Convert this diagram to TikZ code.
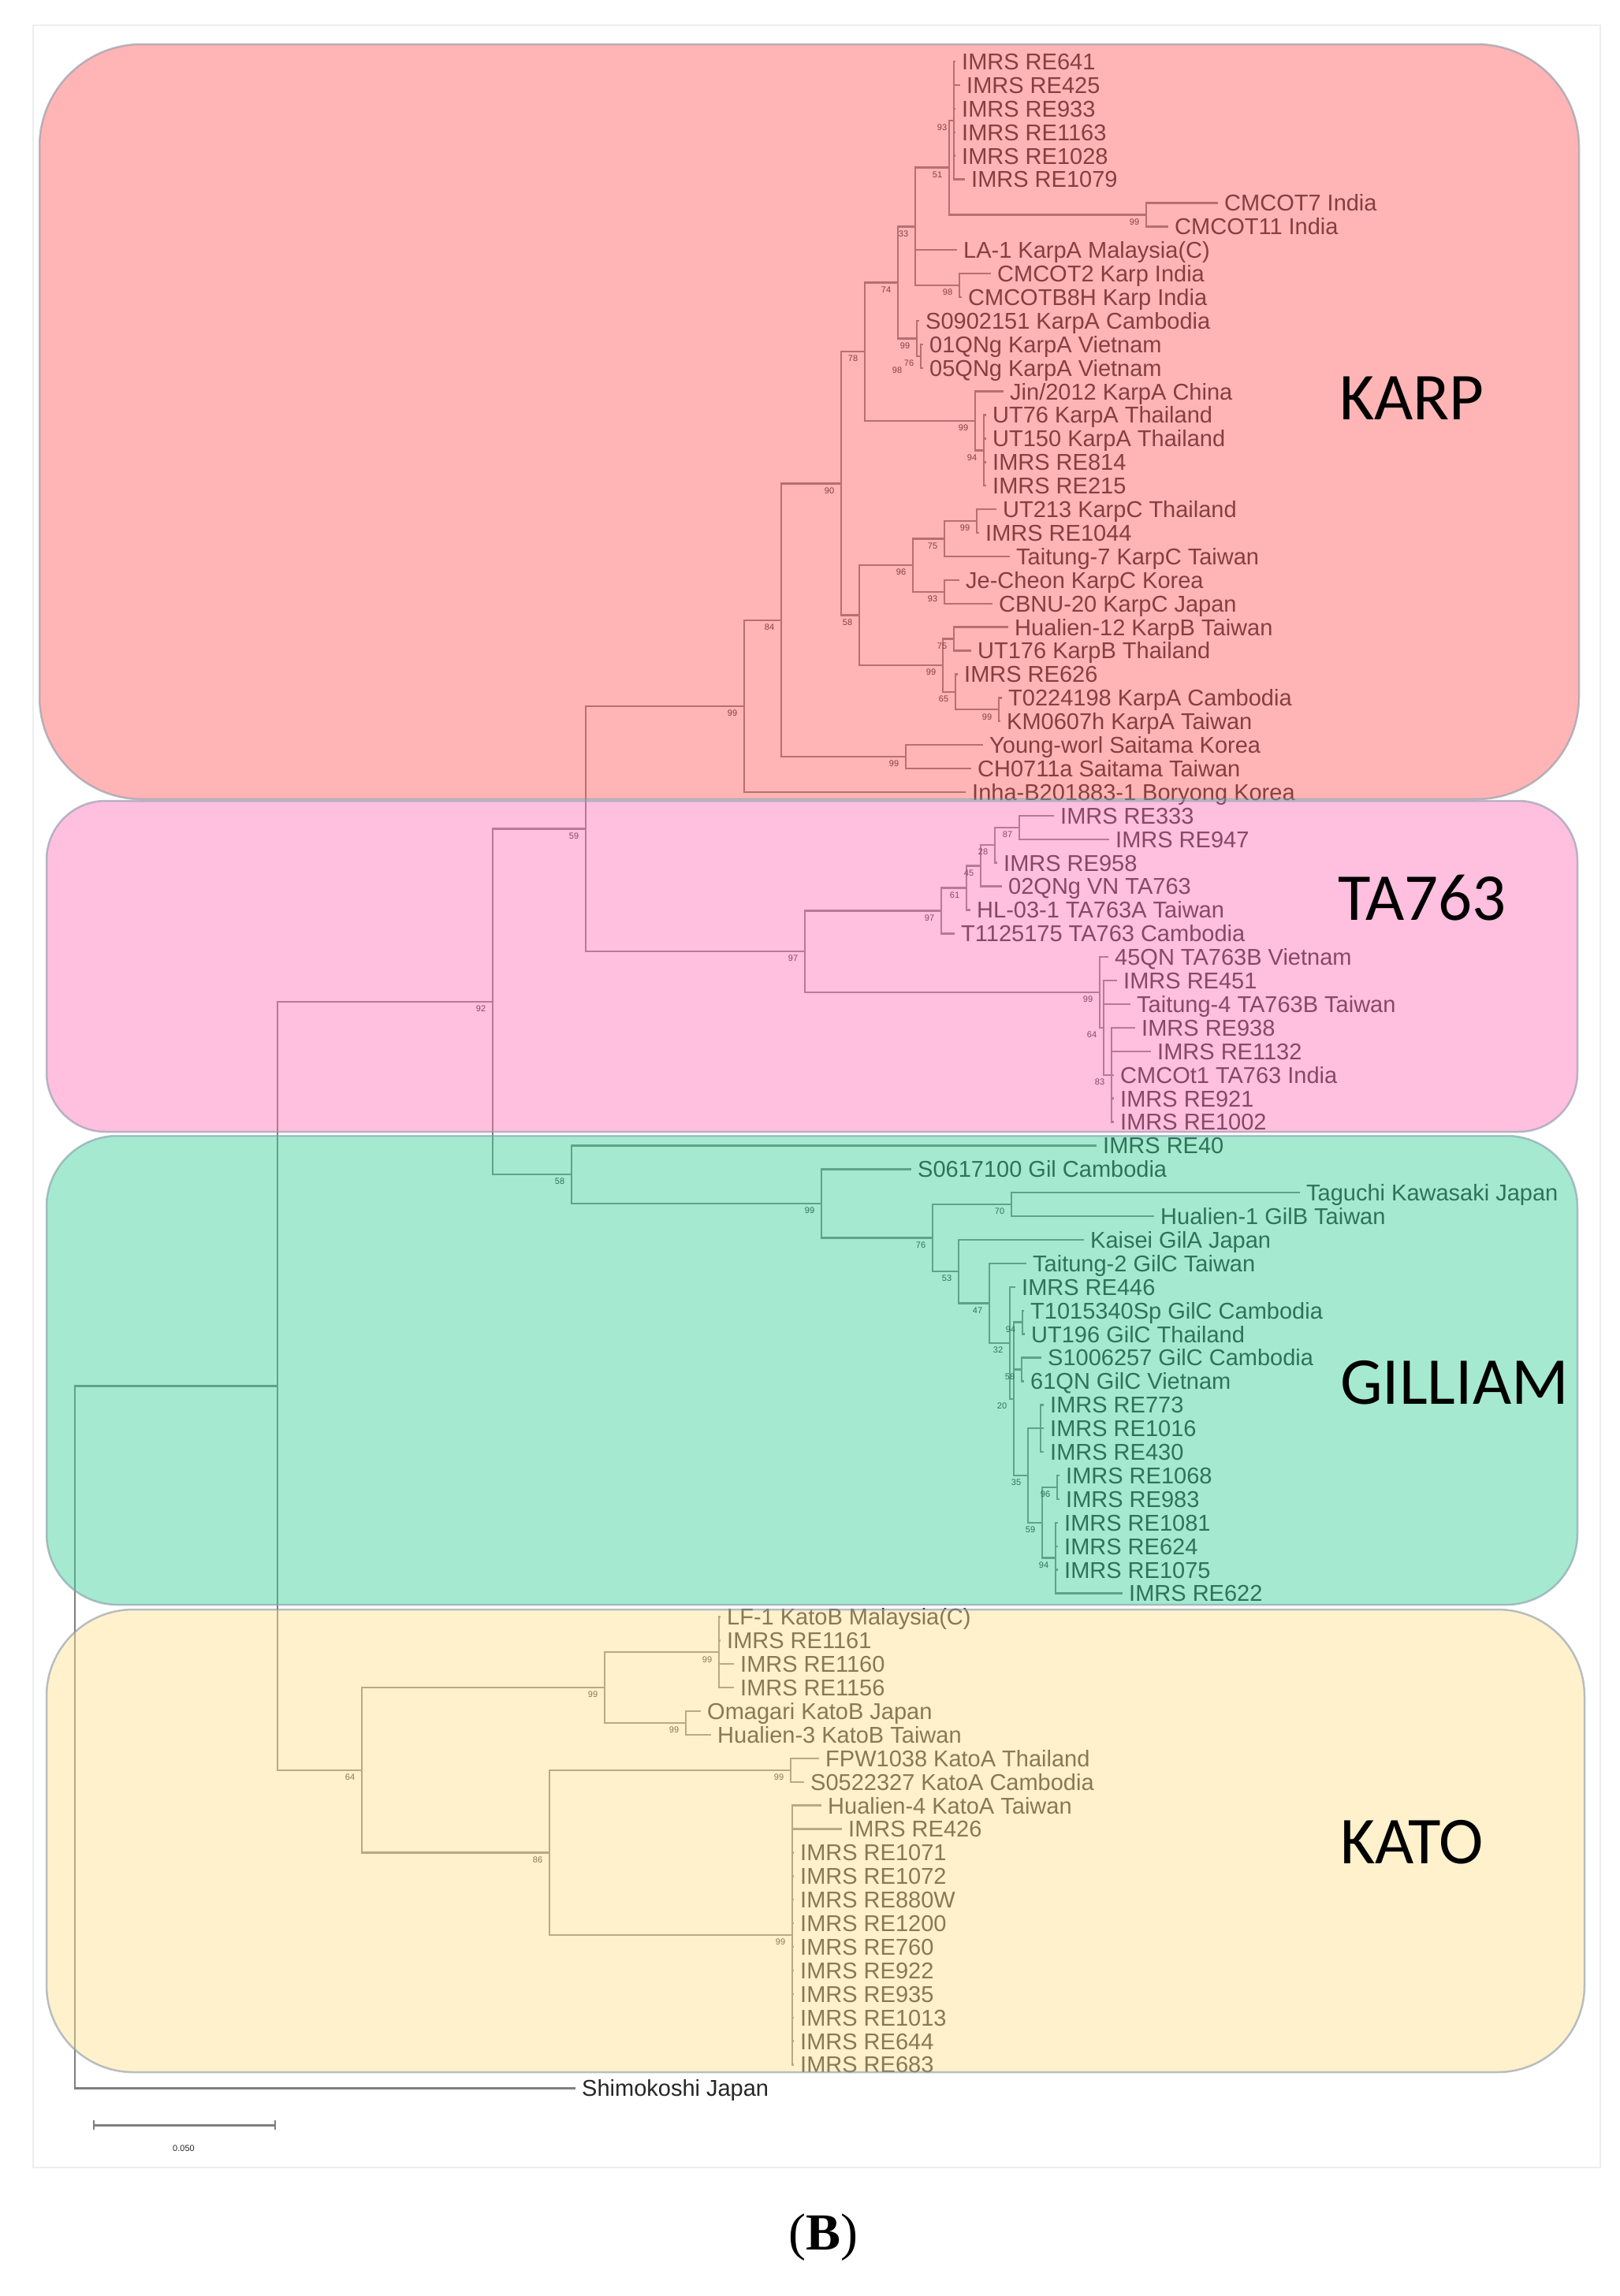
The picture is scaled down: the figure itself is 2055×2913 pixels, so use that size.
\documentclass[tikz,border=0pt]{standalone}
\usepackage{fontspec}
\setmainfont{Liberation Sans}
\newfontfamily\bigfont{Carlito}
\newfontfamily\serifb{Liberation Serif}
\usetikzlibrary{calc}
\definecolor{linec}{HTML}{7F7F7F}
\definecolor{txtc}{HTML}{262626}
\definecolor{karpc}{RGB}{255,93,93}
\definecolor{tac}{RGB}{255,115,186}
\definecolor{gilc}{RGB}{57,208,155}
\definecolor{katoc}{RGB}{255,224,142}
\definecolor{edgec}{HTML}{8898A8}
\tikzset{
  br/.style={draw=linec,line width=2.4pt,line cap=rect},
  lbl/.style={anchor=base west,inner sep=0pt,xshift=9pt,yshift=-10.4pt,text=txtc,font=\fontsize{29}{30}\selectfont},
  bsl/.style={inner sep=0pt,text=txtc,font=\fontsize{11}{12}\selectfont},
  clade/.style={fill opacity=0.45,draw=edgec,draw opacity=0.6,line width=2.5pt},
  biglbl/.style={inner sep=0pt,text=black,font=\bigfont\fontsize{85}{90}\selectfont}
}
\newcommand\tleaf[4]{\coordinate (#1) at (#3,{78+(#2-1)*29.9}); \node[lbl] (#1t) at (#1) {#4};}
\newcommand\tnode[4]{\path let \p1=(#3),\p2=(#4) in coordinate (#1) at (#2pt,{(\y1+\y2)/2});}
\newcommand\bsv[2]{\node[bsl] (#1b) at ([shift={(-15pt,-9pt)}]#1) {#2};}
\newcommand\ed[2]{\foreach \chd in {#2}{\draw[br] (#1) |- (\chd);}}
\begin{document}
\begin{tikzpicture}[x=1pt,y=-1pt]
\useasboundingbox (0,0) rectangle (2055,2913);
\fill[white] (0,0) rectangle (2055,2913);
\draw[black!7,line width=2pt] (42,32) rectangle (2030,2750);
% ---------- KARP leaves
\tleaf{l1}{1}{1211}{IMRS RE641}
\tleaf{l2}{2}{1217}{IMRS RE425}
\tleaf{l3}{3}{1211}{IMRS RE933}
\tleaf{l4}{4}{1211}{IMRS RE1163}
\tleaf{l5}{5}{1211}{IMRS RE1028}
\tleaf{l6}{6}{1223}{IMRS RE1079}
\tleaf{l7}{7}{1544}{CMCOT7 India}
\tleaf{l8}{8}{1481}{CMCOT11 India}
\tleaf{l9}{9}{1213}{LA-1 KarpA Malaysia(C)}
\tleaf{l10}{10}{1256}{CMCOT2 Karp India}
\tleaf{l11}{11}{1219}{CMCOTB8H Karp India}
\tleaf{l12}{12}{1165}{S0902151 KarpA Cambodia}
\tleaf{l13}{13}{1170}{01QNg KarpA Vietnam}
\tleaf{l14}{14}{1170}{05QNg KarpA Vietnam}
\tleaf{l15}{15}{1272}{Jin/2012 KarpA China}
\tleaf{l16}{16}{1250}{UT76 KarpA Thailand}
\tleaf{l17}{17}{1250}{UT150 KarpA Thailand}
\tleaf{l18}{18}{1250}{IMRS RE814}
\tleaf{l19}{19}{1250}{IMRS RE215}
\tleaf{l20}{20}{1263}{UT213 KarpC Thailand}
\tleaf{l21}{21}{1241}{IMRS RE1044}
\tleaf{l22}{22}{1280}{Taitung-7 KarpC Taiwan}
\tleaf{l23}{23}{1216}{Je-Cheon KarpC Korea}
\tleaf{l24}{24}{1258}{CBNU-20 KarpC Japan}
\tleaf{l25}{25}{1278}{Hualien-12 KarpB Taiwan}
\tleaf{l26}{26}{1231}{UT176 KarpB Thailand}
\tleaf{l27}{27}{1214}{IMRS RE626}
\tleaf{l28}{28}{1270}{T0224198 KarpA Cambodia}
\tleaf{l29}{29}{1268}{KM0607h KarpA Taiwan}
\tleaf{l30}{30}{1246}{Young-worl Saitama Korea}
\tleaf{l31}{31}{1231}{CH0711a Saitama Taiwan}
\tleaf{l32}{32}{1224}{Inha-B201883-1 Boryong Korea}
% ---------- TA763 leaves
\tleaf{l33}{33}{1336}{IMRS RE333}
\tleaf{l34}{34}{1406}{IMRS RE947}
\tleaf{l35}{35}{1264}{IMRS RE958}
\tleaf{l36}{36}{1270}{02QNg VN TA763}
\tleaf{l37}{37}{1230}{HL-03-1 TA763A Taiwan}
\tleaf{l38}{38}{1210}{T1125175 TA763 Cambodia}
\tleaf{l39}{39}{1405}{45QN TA763B Vietnam}
\tleaf{l40}{40}{1416}{IMRS RE451}
\tleaf{l41}{41}{1433}{Taitung-4 TA763B Taiwan}
\tleaf{l42}{42}{1439}{IMRS RE938}
\tleaf{l43}{43}{1459}{IMRS RE1132}
\tleaf{l44}{44}{1412}{CMCOt1 TA763 India}
\tleaf{l45}{45}{1412}{IMRS RE921}
\tleaf{l46}{46}{1412}{IMRS RE1002}
% ---------- GILLIAM leaves
\tleaf{l47}{47}{1390}{IMRS RE40}
\tleaf{l48}{48}{1155}{S0617100 Gil Cambodia}
\tleaf{l49}{49}{1648}{Taguchi Kawasaki Japan}
\tleaf{l50}{50}{1463}{Hualien-1 GilB Taiwan}
\tleaf{l51}{51}{1374}{Kaisei GilA Japan}
\tleaf{l52}{52}{1301}{Taitung-2 GilC Taiwan}
\tleaf{l53}{53}{1287}{IMRS RE446}
\tleaf{l54}{54}{1298}{T1015340Sp GilC Cambodia}
\tleaf{l55}{55}{1299}{UT196 GilC Thailand}
\tleaf{l56}{56}{1320}{S1006257 GilC Cambodia}
\tleaf{l57}{57}{1298}{61QN GilC Vietnam}
\tleaf{l58}{58}{1323}{IMRS RE773}
\tleaf{l59}{59}{1323}{IMRS RE1016}
\tleaf{l60}{60}{1323}{IMRS RE430}
\tleaf{l61}{61}{1343}{IMRS RE1068}
\tleaf{l62}{62}{1343}{IMRS RE983}
\tleaf{l63}{63}{1341}{IMRS RE1081}
\tleaf{l64}{64}{1341}{IMRS RE624}
\tleaf{l65}{65}{1341}{IMRS RE1075}
\tleaf{l66}{66}{1423}{IMRS RE622}
% ---------- KATO leaves
\tleaf{l67}{67}{913}{LF-1 KatoB Malaysia(C)}
\tleaf{l68}{68}{913}{IMRS RE1161}
\tleaf{l69}{69}{930}{IMRS RE1160}
\tleaf{l70}{70}{930}{IMRS RE1156}
\tleaf{l71}{71}{888}{Omagari KatoB Japan}
\tleaf{l72}{72}{901}{Hualien-3 KatoB Taiwan}
\tleaf{l73}{73}{1038}{FPW1038 KatoA Thailand}
\tleaf{l74}{74}{1019}{S0522327 KatoA Cambodia}
\tleaf{l75}{75}{1041}{Hualien-4 KatoA Taiwan}
\tleaf{l76}{76}{1067}{IMRS RE426}
\tleaf{l77}{77}{1006}{IMRS RE1071}
\tleaf{l78}{78}{1006}{IMRS RE1072}
\tleaf{l79}{79}{1006}{IMRS RE880W}
\tleaf{l80}{80}{1006}{IMRS RE1200}
\tleaf{l81}{81}{1006}{IMRS RE760}
\tleaf{l82}{82}{1006}{IMRS RE922}
\tleaf{l83}{83}{1006}{IMRS RE935}
\tleaf{l84}{84}{1006}{IMRS RE1013}
\tleaf{l85}{85}{1006}{IMRS RE644}
\tleaf{l86}{86}{1006}{IMRS RE683}
\tleaf{l87}{87}{729}{Shimokoshi Japan}
% ---------- internal nodes: KARP
\tnode{A}{1210}{l1}{l6}
\tnode{cm}{1454}{l7}{l8}
\tnode{B}{1204}{A}{cm}
\tnode{n98}{1217}{l10}{l11}
\tnode{C}{1161}{B}{n98}
\tnode{G}{1168}{l13}{l14}
\tnode{F}{1163}{l12}{G}
\tnode{E}{1139}{C}{F}
\tnode{I}{1248}{l16}{l19}
\tnode{H}{1237}{l15}{I}
\tnode{D}{1097}{E}{H}
\tnode{Q}{1239}{l20}{l21}
\tnode{O}{1198}{Q}{l22}
\tnode{P}{1198}{l23}{l24}
\tnode{M}{1158}{O}{P}
\tnode{R}{1210}{l25}{l26}
\tnode{T}{1267}{l28}{l29}
\tnode{S}{1212}{l27}{T}
\tnode{N}{1196}{R}{S}
\tnode{K}{1090}{M}{N}
\tnode{J}{1067}{D}{K}
\tnode{U}{1149}{l30}{l31}
\tnode{L}{991}{J}{U}
\tnode{V}{944}{L}{l32}
% TA763
\tnode{YE}{1293}{l33}{l34}
\tnode{YD}{1262}{YE}{l35}
\tnode{YC}{1244}{YD}{l36}
\tnode{YB}{1226}{YC}{l37}
\tnode{YA}{1194}{YB}{l38}
\tnode{Z4}{1410}{l42}{l46}
\tnode{Z3}{1400}{l40}{Z4}
\tnode{Z2}{1395}{l39}{Z3}
\tnode{Y}{1021}{YA}{Z2}
\tnode{W}{743}{V}{Y}
% GILLIAM
\tnode{AD}{1283}{l49}{l50}
\tnode{AH}{1297}{l54}{l55}
\tnode{Ga}{1296}{l56}{l57}
\tnode{Gb}{1320}{l58}{l60}
\tnode{Gc}{1341}{l61}{l62}
\tnode{Gd}{1339}{l63}{l66}
\tnode{Ge}{1322}{Gc}{Gd}
\tnode{Gf}{1304}{Gb}{Ge}
\tnode{Gg}{1286}{AH}{Gf}
\tnode{AG}{1281}{l53}{Gg}
\tnode{AF}{1255}{l52}{AG}
\tnode{AE}{1216}{l51}{AF}
\tnode{AC}{1183}{AD}{AE}
\tnode{AB}{1042}{l48}{AC}
\tnode{AA}{725}{l47}{AB}
\tnode{X}{625}{W}{AA}
% KATO
\tnode{KC}{912}{l67}{l70}
\tnode{KD}{870}{l71}{l72}
\tnode{KB}{767}{KC}{KD}
\tnode{KE}{1003}{l73}{l74}
\tnode{KF}{1005}{l75}{l86}
\tnode{KA}{697}{KE}{KF}
\tnode{K0}{459}{KB}{KA}
\tnode{Z}{352}{X}{K0}
\tnode{R0}{95}{Z}{l87}
% ---------- branches
\ed{A}{l1,l2,l3,l4,l5,l6}
\ed{cm}{l7,l8}
\ed{B}{A,cm}
\ed{n98}{l10,l11}
\ed{C}{B,l9,n98}
\ed{G}{l13,l14}
\ed{F}{l12,G}
\ed{E}{C,F}
\ed{I}{l16,l17,l18,l19}
\ed{H}{l15,I}
\ed{D}{E,H}
\ed{Q}{l20,l21}
\ed{O}{Q,l22}
\ed{P}{l23,l24}
\ed{M}{O,P}
\ed{R}{l25,l26}
\ed{T}{l28,l29}
\ed{S}{l27,T}
\ed{N}{R,S}
\ed{K}{M,N}
\ed{J}{D,K}
\ed{U}{l30,l31}
\ed{L}{J,U}
\ed{V}{L,l32}
\ed{YE}{l33,l34}
\ed{YD}{YE,l35}
\ed{YC}{YD,l36}
\ed{YB}{YC,l37}
\ed{YA}{YB,l38}
\ed{Z4}{l42,l43,l44,l45,l46}
\ed{Z3}{l40,l41,Z4}
\ed{Z2}{l39,Z3}
\ed{Y}{YA,Z2}
\ed{W}{V,Y}
\ed{AD}{l49,l50}
\ed{AH}{l54,l55}
\ed{Ga}{l56,l57}
\ed{Gb}{l58,l59,l60}
\ed{Gc}{l61,l62}
\ed{Gd}{l63,l64,l65,l66}
\ed{Ge}{Gc,Gd}
\ed{Gf}{Gb,Ge}
\ed{Gg}{AH,Ga,Gf}
\ed{AG}{l53,Gg}
\ed{AF}{l52,AG}
\ed{AE}{l51,AF}
\ed{AC}{AD,AE}
\ed{AB}{l48,AC}
\ed{AA}{l47,AB}
\ed{X}{W,AA}
\ed{KC}{l67,l68,l69,l70}
\ed{KD}{l71,l72}
\ed{KB}{KC,KD}
\ed{KE}{l73,l74}
\ed{KF}{l75,l76,l77,l78,l79,l80,l81,l82,l83,l84,l85,l86}
\ed{KA}{KE,KF}
\ed{K0}{KB,KA}
\ed{Z}{X,K0}
\ed{R0}{Z,l87}
% ---------- bootstrap values
\bsv{A}{93}\bsv{B}{51}\bsv{cm}{99}\bsv{C}{33}\bsv{n98}{98}\bsv{E}{74}
\bsv{F}{99}\bsv{G}{76}\bsv{D}{78}\bsv{H}{99}\bsv{I}{94}\bsv{J}{90}
\bsv{Q}{99}\bsv{O}{75}\bsv{P}{93}\bsv{M}{96}\bsv{R}{75}\bsv{T}{99}
\bsv{S}{65}\bsv{N}{99}\bsv{K}{58}\bsv{U}{99}\bsv{L}{84}\bsv{V}{99}\bsv{W}{59}
\bsv{YE}{87}\bsv{YD}{28}\bsv{YC}{45}\bsv{YB}{61}\bsv{YA}{97}\bsv{Y}{97}
\bsv{Z2}{99}\bsv{Z3}{64}\bsv{Z4}{83}
\bsv{X}{92}
\bsv{AA}{58}\bsv{AB}{99}\bsv{AC}{76}\bsv{AD}{70}\bsv{AE}{53}\bsv{AF}{47}
\bsv{AG}{32}\bsv{AH}{94}\bsv{Ga}{58}\bsv{Gg}{20}\bsv{Gb}{98}\bsv{Gf}{35}
\bsv{Gc}{96}\bsv{Ge}{59}\bsv{Gd}{94}
\bsv{K0}{64}\bsv{KB}{99}\bsv{KC}{99}\bsv{KD}{99}\bsv{KA}{86}\bsv{KE}{99}\bsv{KF}{99}
% ---------- scale bar
\coordinate (sb1) at (119,2696);
\coordinate (sb2) at (349,2696);
\draw[linec,line width=3pt] (sb1) -- (sb2);
\draw[linec,line width=2pt] ([yshift=6pt]sb1) -- ([yshift=-6pt]sb1);
\draw[linec,line width=2pt] ([yshift=6pt]sb2) -- ([yshift=-6pt]sb2);
\node[bsl] (sbl) at (233,2726) {0.050};
% ---------- clade boxes (overlay)
\filldraw[clade,fill=karpc,rounded corners=130pt] (50,56) rectangle (2003,1014);
\filldraw[clade,fill=tac,rounded corners=75pt] (59,1016) rectangle (2001,1436);
\filldraw[clade,fill=gilc,rounded corners=90pt] (59,1441) rectangle (2001,2036);
\filldraw[clade,fill=katoc,rounded corners=110pt] (59,2042) rectangle (2010,2629);
% ---------- clade names
\node[biglbl] (karp) at (1791,505) {KARP};
\node[biglbl] (ta) at (1804,1139) {TA763};
\node[biglbl] (gil) at (1845,1754) {GILLIAM};
\node[biglbl] (kato) at (1791,2337) {KATO};
\node[inner sep=0pt,font=\serifb\fontsize{66}{70}\selectfont] (cap) at (1044,2839) {(\textbf{B})};
\end{tikzpicture}
\end{document}
